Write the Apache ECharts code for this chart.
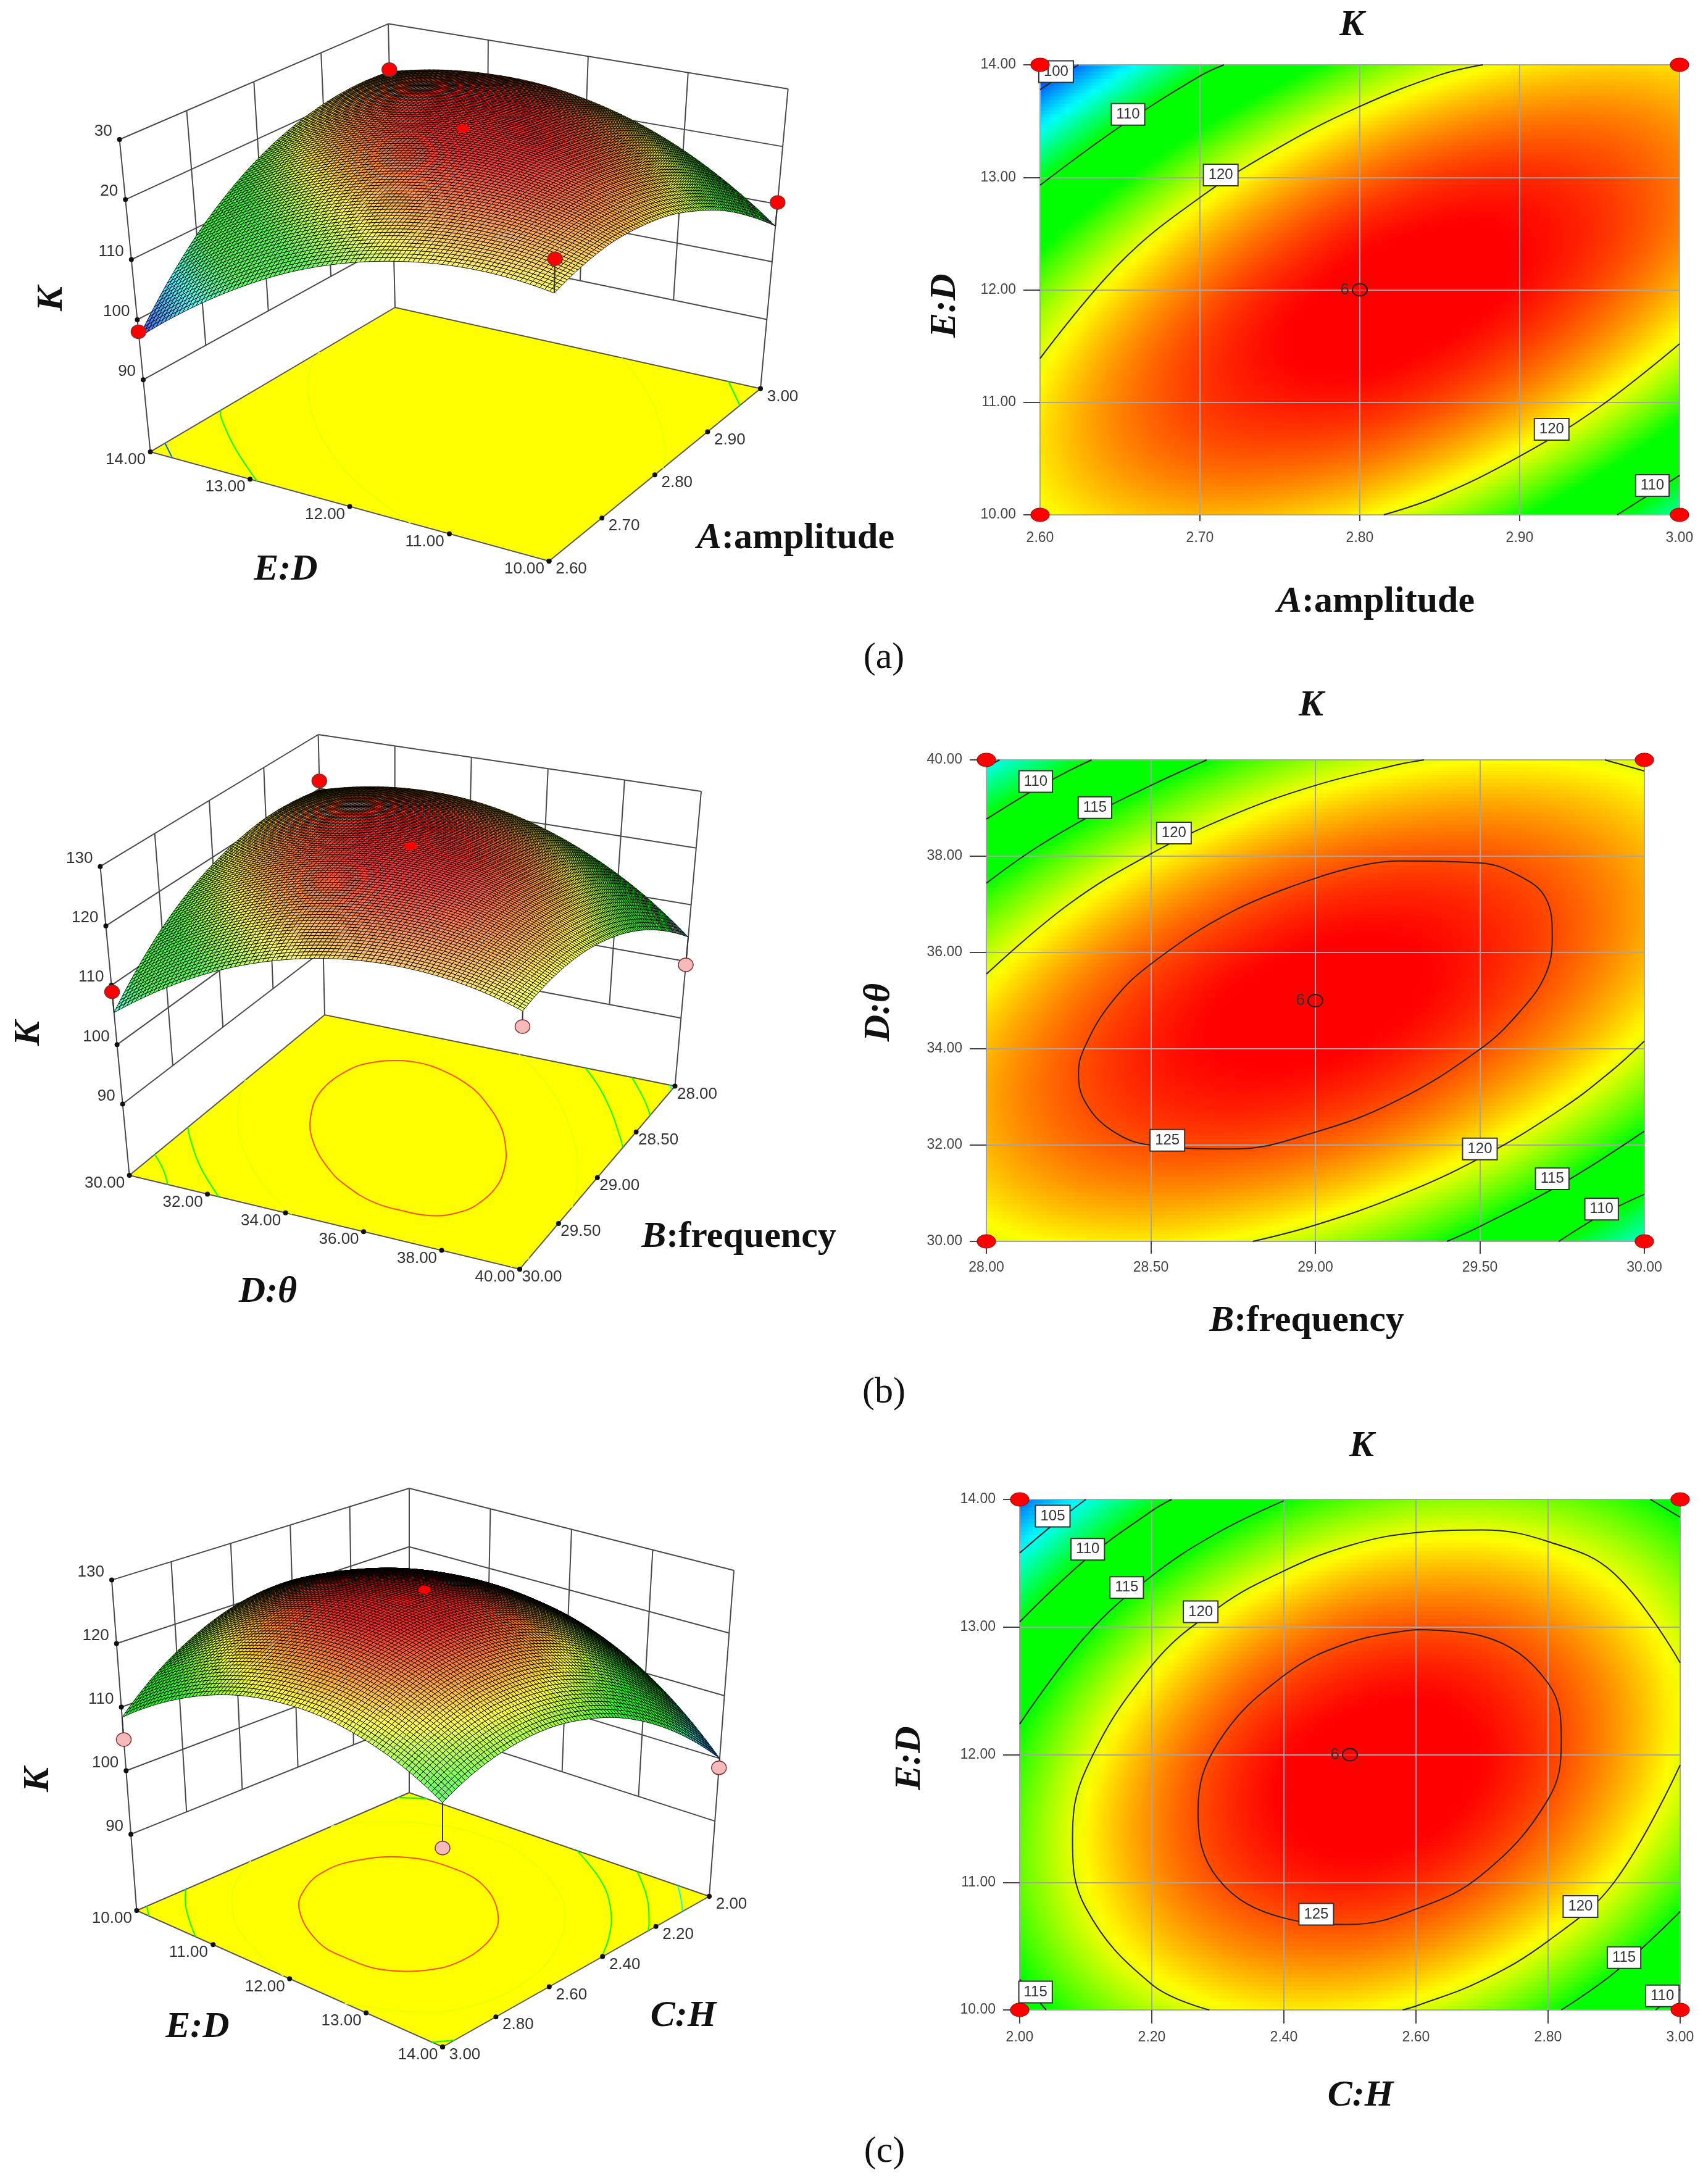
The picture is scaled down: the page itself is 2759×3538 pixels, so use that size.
<!DOCTYPE html>
<html>
<head>
<meta charset="utf-8">
<style>html,body{margin:0;padding:0;background:#fff}#main{width:2759px;height:3538px}</style>
<script src="https://cdn.jsdelivr.net/npm/echarts@6/dist/echarts.min.js"></script>
</head>
<body>
<div id="main"></div>
<script>
// K, rows go from lowest y tick to highest y tick
const kA = [
  [120.2,121.7,122.4,122.0,120.8,118.5,115.4,111.2,106.2],
  [121.1,123.3,124.5,124.7,124.1,122.4,119.8,116.3,111.8],
  [120.9,123.7,125.5,126.3,126.3,125.2,123.2,120.3,116.4],
  [119.6,123.0,125.4,126.9,127.4,126.9,125.5,123.2,119.9],
  [117.3,121.2,124.2,126.3,127.4,127.6,126.8,125.0,122.3],
  [113.9,118.4,122.0,124.6,126.4,127.1,126.9,125.8,123.7],
  [109.3,114.5,118.7,121.9,124.2,125.6,126.0,125.4,123.9],
  [103.7,109.5,114.3,118.1,121.0,122.9,123.9,124.0,123.1],
  [97.1,103.4,108.8,113.2,116.7,119.2,120.8,121.5,121.2]
];
const kB = [
  [119.7,120.7,120.9,120.2,118.8,116.7,113.7,109.9,105.4],
  [121.7,123.2,123.8,123.6,122.7,121.0,118.5,115.2,111.1],
  [122.6,124.5,125.6,125.9,125.4,124.2,122.1,119.3,115.7],
  [122.4,124.7,126.3,127.0,127.0,126.2,124.6,122.3,119.1],
  [121.0,123.8,125.8,127.1,127.5,127.2,126.0,124.1,121.4],
  [118.5,121.8,124.3,125.9,126.9,127.0,126.3,124.9,122.6],
  [114.9,118.6,121.6,123.7,125.1,125.7,125.5,124.5,122.7],
  [110.2,114.3,117.7,120.3,122.2,123.2,123.5,123.0,121.7],
  [104.3,108.9,112.8,115.9,118.2,119.7,120.4,120.3,119.5]
];
const kC = [
  [113.7,117.3,119.6,120.8,120.7,119.4,116.9,113.3,108.4],
  [115.9,119.8,122.4,123.8,124.1,123.1,120.9,117.6,113.0],
  [117.0,121.1,124.1,125.8,126.4,125.7,123.8,120.8,116.5],
  [116.9,121.4,124.6,126.7,127.5,127.2,125.6,122.8,118.9],
  [115.8,120.5,124.1,126.5,127.6,127.5,126.3,123.8,120.1],
  [113.5,118.6,122.4,125.1,126.5,126.8,125.8,123.7,120.3],
  [110.1,115.5,119.7,122.6,124.4,124.9,124.3,122.4,119.3],
  [105.6,111.3,115.8,119.0,121.1,121.9,121.6,120.0,117.3],
  [100.0,106.0,110.8,114.4,116.7,117.9,117.8,116.6,114.1]
];

// axis ticks
const ampTicks = [2.6,2.7,2.8,2.9,3.0];
const diaTicks = [10,11,12,13,14];
const freqTicks = [28,28.5,29,29.5,30];
const thetaTicks = [30,32,34,36,38,40];
const heightTicks = [2,2.2,2.4,2.6,2.8,3];
const kTicks = [90,100,110,120,130];
const kLabelsA = ['90','100','110','20','30'];
const kLabelsBC = ['90','100','110','120','130'];

// contour lines, [level, points]
const contoursA = [
  [100,[[2.6,13.78],[2.624,14]]],
  [110,[[2.6,12.93],[2.65,13.45],[2.7,13.9],[2.715,14]]],
  [120,[[2.6,11.39],[2.65,12.24],[2.7,12.82],[2.75,13.27],[2.8,13.63],[2.85,13.91],[2.877,14]]],
  [120,[[2.815,10],[2.85,10.17],[2.9,10.52],[2.95,10.96],[3,11.52]]],
  [110,[[2.961,10],[3,10.35]]]
];
const contoursB = [
  [105,[[28,39.85],[28.04,40]]],
  [110,[[28,38.77],[28.15,39.4],[28.25,39.77],[28.32,40]]],
  [115,[[28,37.44],[28.15,38.17],[28.33,38.89],[28.5,39.47],[28.67,40]]],
  [120,[[28,35.55],[28.25,37],[28.5,38.05],[28.75,38.86],[29,39.47],[29.25,39.9],[29.33,40]]],
  [120,[[29.88,40],[30,39.77]]],
  [120,[[28.81,30],[29,30.34],[29.25,30.94],[29.5,31.73],[29.75,32.76],[29.9,33.54],[30,34.16]]],
  [115,[[29.4,30],[29.5,30.31],[29.75,31.2],[30,32.29]]],
  [110,[[29.74,30],[29.87,30.55],[30,30.98]]],
  [125,[[29,37.54],[29.25,37.9],[29.5,37.86],[29.62,37.59],[29.7,37.13],[29.72,36.35],[29.7,35.55],[29.62,34.76],[29.5,33.99],[29.25,32.93],[29,32.27],[28.75,31.92],[28.5,32],[28.38,32.31],[28.3,32.9],[28.28,33.5],[28.3,34.05],[28.38,34.96],[28.5,35.76],[28.75,36.86],[29,37.54]]]
];
const contoursC = [
  [105,[[2,13.58],[2.05,13.8],[2.1,14]]],
  [110,[[2,13.04],[2.1,13.53],[2.2,13.91],[2.23,14]]],
  [115,[[2,12.24],[2.1,12.93],[2.2,13.4],[2.3,13.74],[2.4,13.99]]],
  [115,[[2,10.24],[2.04,10]]],
  [115,[[2.955,14],[3,13.86]]],
  [115,[[2.82,10],[2.9,10.29],[3,10.77]]],
  [110,[[2.963,10],[3,10.16]]],
  [120,[[2.287,10],[2.2,10.2],[2.1,10.8],[2.08,11.34],[2.1,11.88],[2.2,12.7],[2.3,13.15],[2.4,13.44],[2.5,13.64],[2.6,13.74],[2.7,13.76],[2.8,13.67],[2.9,13.42],[3,12.72]]],
  [120,[[3,11.92],[2.9,11],[2.8,10.54],[2.7,10.23],[2.6,10.03],[2.58,10]]],
  [125,[[2.6,12.98],[2.7,12.93],[2.8,12.56],[2.82,12.1],[2.8,11.65],[2.7,11.06],[2.6,10.79],[2.5,10.67],[2.4,10.72],[2.3,11.03],[2.27,11.56],[2.3,12.09],[2.4,12.62],[2.5,12.88],[2.6,12.98]]]
];

// boxed contour labels [x, y, level]
const labelsA = [[2.61,13.94,100],[2.655,13.56,110],[2.713,13.02,120],[2.92,10.76,120],[2.983,10.26,110]];
const labelsB = [[28.15,39.55,110],[28.33,39.01,115],[28.57,38.48,120],[28.55,32.1,125],[29.5,31.92,120],[29.72,31.3,115],[29.87,30.67,110]];
const labelsC = [[2.05,13.87,105],[2.103,13.61,110],[2.162,13.31,115],[2.274,13.12,120],[2.449,10.75,125],[2.849,10.81,120],[2.915,10.41,115],[2.973,10.11,110],[2.024,10.14,115]];

// design points on the contour plots, the centre point has 6 replicates
const pointsA = [[2.6,14],[3,14],[2.6,10],[3,10]];
const centreA = [2.8,12];
const pointsB = [[28,40],[30,40],[28,30],[30,30]];
const centreB = [29,35];
const pointsC = [[2,14],[3,14],[2,10],[3,10]];
const centreC = [2.5,12];

// design points above / below the surface [x, y, K]
const points3dA = [[2.6,14,98],[3,14,121.6],[3,10,110.3],[2.6,10,125.6],[2.8,12,128.7]];
const points3dB = [[28,30,121.4],[30,30,108.9],[28,40,99.4],[30,40,117],[29,35,128]];
const points3dC = [[3,10,104.9],[2,14,98.5],[3,14,107.4],[2.5,12,129]];

const Z_FLOOR = 78, Z_TOP = 130;
const SANS = '"Liberation Sans"', SERIF = '"Liberation Serif"';

// colour ramp of the response surface
const rampStops = [[97,[0,0,255]],[104.5,[0,255,255]],[110,[0,255,0]],[115,[0,255,0]],[120.5,[255,255,0]],[127,[255,0,0]]];
function rampRgb(v) {
  if (v <= rampStops[0][0]) return rampStops[0][1];
  for (let i = 1; i < rampStops.length; i++) {
    if (v <= rampStops[i][0]) {
      const a = rampStops[i-1], b = rampStops[i], t = (v - a[0]) / (b[0] - a[0]);
      return a[1].map((c, k) => c + (b[1][k] - c) * t);
    }
  }
  return rampStops[rampStops.length-1][1];
}
function rgb(c) { return 'rgb(' + c.map(Math.round).join(',') + ')'; }

// smooth shading between the read table values (Catmull-Rom, only for painting)
function tableAt(t, j, i) {
  if (i < 0) return 3*tableAt(t,j,0) - 3*tableAt(t,j,1) + tableAt(t,j,2);
  if (i > 8) return 3*tableAt(t,j,8) - 3*tableAt(t,j,7) + tableAt(t,j,6);
  if (j < 0) return 3*tableAt(t,0,i) - 3*tableAt(t,1,i) + tableAt(t,2,i);
  if (j > 8) return 3*tableAt(t,8,i) - 3*tableAt(t,7,i) + tableAt(t,6,i);
  return t[j][i];
}
function cr(a, b, c, d, s) {
  return 0.5 * (2*b + (c-a)*s + (2*a-5*b+4*c-d)*s*s + (3*b-a-3*c+d)*s*s*s);
}
function sample(t, u, v) {
  const fx = Math.min(u * 8, 7.9999), fy = Math.min(v * 8, 7.9999);
  const i = Math.floor(fx), j = Math.floor(fy), s = fx - i, r = fy - j;
  const row = [];
  for (let k = -1; k <= 2; k++) {
    row.push(cr(tableAt(t,j+k,i-1), tableAt(t,j+k,i), tableAt(t,j+k,i+1), tableAt(t,j+k,i+2), s));
  }
  return cr(row[0], row[1], row[2], row[3], r);
}

const cells = [];
for (let j = 0; j < 8; j++) for (let i = 0; i < 8; i++) cells.push([i, j]);

function norm(v, ticks) { return (v - ticks[0]) / (ticks[ticks.length-1] - ticks[0]); }

// --- contour plots ---
const panels2d = [
  {k:kA, xt:ampTicks, yt:diaTicks, cont:contoursA, lab:labelsA, pts:pointsA, ctr:centreA, left:1685, top:105, w:1036, h:729, tick:10, xMargin:26},
  {k:kB, xt:freqTicks, yt:thetaTicks, cont:contoursB, lab:labelsB, pts:pointsB, ctr:centreB, left:1598, top:1231, w:1066, h:780, tick:20, xMargin:31},
  {k:kC, xt:heightTicks, yt:diaTicks, cont:contoursC, lab:labelsC, pts:pointsC, ctr:centreC, left:1652, top:2429, w:1070, h:827, tick:22, xMargin:33}
];

const grids = [], xAxes = [], yAxes = [], series = [];
panels2d.forEach((p, n) => {
  grids.push({left:p.left, top:p.top, width:p.w, height:p.h, show:false});
  const common = {type:'value', z:5, splitLine:{show:true, lineStyle:{color:'#a6a6a6', width:2}}, axisLine:{show:false}};
  xAxes.push(Object.assign({}, common, {gridIndex:n, min:p.xt[0], max:p.xt[p.xt.length-1], interval:p.xt[1]-p.xt[0],
    axisTick:{show:true, length:p.tick, lineStyle:{color:'#444', width:2}},
    axisLabel:{margin:p.xMargin, fontSize:23, fontFamily:SANS, color:'#444', formatter:v => v.toFixed(2)}}));
  yAxes.push(Object.assign({}, common, {gridIndex:n, min:p.yt[0], max:p.yt[p.yt.length-1], interval:p.yt[1]-p.yt[0],
    axisTick:{show:true, length:27, lineStyle:{color:'#444', width:2}},
    axisLabel:{margin:39, fontSize:23, fontFamily:SANS, color:'#444', formatter:v => v.toFixed(2)}}));

  const xMin = p.xt[0], xMax = p.xt[p.xt.length-1], yMin = p.yt[0], yMax = p.yt[p.yt.length-1];
  const ROWS = 16, STOPS = 6;
  series.push({
    type:'custom', xAxisIndex:n, yAxisIndex:n, silent:true, clip:true, z:2, progressive:0,
    data: cells.map(c => [xMin + (xMax-xMin)*c[0]/8, yMin + (yMax-yMin)*c[1]/8, p.k[c[1]][c[0]], c[0], c[1]]),
    encode:{x:0, y:1},
    renderItem(params, api) {
      const ci = api.value(3), cj = api.value(4), kids = [];
      for (let b = 0; b < ROWS; b++) {
        const u0 = ci/8, u1 = (ci+1)/8, v0 = (cj + b/ROWS)/8, v1 = (cj + (b+1)/ROWS)/8;
        const p0 = api.coord([xMin + (xMax-xMin)*u0, yMin + (yMax-yMin)*v0]);
        const p1 = api.coord([xMin + (xMax-xMin)*u1, yMin + (yMax-yMin)*v1]);
        const x0 = Math.round(p0[0]), x1 = Math.round(p1[0]), y0 = Math.round(p1[1]), y1 = Math.round(p0[1]);
        const stops = [];
        for (let s = 0; s <= STOPS; s++) {
          stops.push({offset:s/STOPS, color:rgb(rampRgb(sample(p.k, u0 + (u1-u0)*s/STOPS, (v0+v1)/2)))});
        }
        kids.push({type:'rect', shape:{x:x0, y:y0, width:x1-x0, height:y1-y0},
          style:{fill:{type:'linear', x:0, y:0, x2:1, y2:0, colorStops:stops}}});
      }
      return {type:'group', children:kids};
    }
  });
  p.cont.forEach(c => series.push({
    type:'line', xAxisIndex:n, yAxisIndex:n, data:c[1], smooth:0.4, showSymbol:false, symbol:'none', silent:true, z:6,
    lineStyle:{color:'#222', width:2}
  }));
  series.push({
    type:'scatter', xAxisIndex:n, yAxisIndex:n, data:p.lab, symbolSize:1, silent:true, z:8, clip:false,
    itemStyle:{color:'#fff', opacity:1},
    label:{show:true, position:'inside', formatter:o => o.value[2], fontSize:24, fontFamily:SANS, color:'#333',
      backgroundColor:'#ffffff', borderColor:'#333', borderWidth:2, padding:[5,7,4,7], opacity:1}
  });
  series.push({
    type:'scatter', xAxisIndex:n, yAxisIndex:n, data:p.pts, symbol:'circle', symbolSize:[30,22], silent:true, z:9, clip:false,
    itemStyle:{color:'#f00', borderColor:'#900', borderWidth:1, opacity:1}
  });
  series.push({
    type:'scatter', xAxisIndex:n, yAxisIndex:n, data:[p.ctr], symbol:'circle', symbolSize:[24,20], silent:true, z:9, clip:false,
    itemStyle:{color:'rgba(255,0,0,0.6)', borderColor:'#222', borderWidth:2, opacity:1},
    label:{show:true, position:'left', distance:4, formatter:'6', fontSize:26, fontFamily:SANS, color:'#333'}
  });
});

// --- 3D response surfaces, drawn on a hidden page-sized grid ---
grids.push({left:0, top:0, right:0, bottom:0, show:false});
xAxes.push({type:'value', gridIndex:3, min:0, max:2759, show:false});
yAxes.push({type:'value', gridIndex:3, min:0, max:3538, inverse:true, show:false});

// corners are given for (x low,y low), (x high,y low), (x low,y high), (x high,y high)
const panels3d = [
  {k:kA, xt:ampTicks, yt:diaTicks, zl:kLabelsA, cont:contoursA, pts:points3dA, xb:1, yb:1,
   floor:[[889.5,909],[1232,629.5],[243.6,732],[640,498]], ceil:[[900,374],[1276.7,144],[193.6,226],[629,38.6]]},
  {k:kB, xt:freqTicks, yt:thetaTicks, zl:kLabelsBC, cont:contoursB, pts:points3dB, xb:0, yb:0,
   floor:[[526,1644],[209.6,1904],[1093.5,1759.5],[842,2056]], ceil:[[515.6,1190],[162.4,1403.7],[1136,1282],[848,1532]]},
  {k:kC, xt:heightTicks, yt:diaTicks, zl:kLabelsBC, cont:contoursC, pts:points3dC, xb:0, yb:0,
   floor:[[663,2904],[221.4,3095],[1149,3072],[717,3316]], ceil:[[663,2411],[181,2559.6],[1189,2544],[717,2746]]}
];

function bil(c, u, v) {
  return [0,1].map(k => c[0][k]*(1-u)*(1-v) + c[1][k]*u*(1-v) + c[2][k]*(1-u)*v + c[3][k]*u*v);
}
function project(p, u, v, z) {
  const f = bil(p.floor, u, v), c = bil(p.ceil, u, v), t = (z - Z_FLOOR) / (Z_TOP - Z_FLOOR);
  return [f[0] + (c[0]-f[0])*t, f[1] + (c[1]-f[1])*t];
}
function line(a, b, w, col) {
  return {type:'line', shape:{x1:a[0], y1:a[1], x2:b[0], y2:b[1]}, style:{stroke:col || '#4a4a4a', lineWidth:w || 2}};
}
function dot(a, r) { return {type:'circle', shape:{cx:a[0], cy:a[1], r:r || 4}, style:{fill:'#111'}}; }
function label3d(a, text, align) {
  return {type:'text', x:a[0], y:a[1], style:{text:text, fontSize:26, fontFamily:SANS, fill:'#333', align:align || 'center', verticalAlign:'middle'}};
}

panels3d.forEach(p => {
  const xf = 1 - p.xb, yf = 1 - p.yb;
  // walls, floor, floor contours
  series.push({
    type:'custom', xAxisIndex:3, yAxisIndex:3, silent:true, clip:false, z:2, data:[[0,0]],
    renderItem(params, api) {
      const P = (u,v,z) => api.coord(project(p,u,v,z)), kids = [];
      const fl = [P(0,0,Z_FLOOR),P(1,0,Z_FLOOR),P(1,1,Z_FLOOR),P(0,1,Z_FLOOR)];
      kids.push({type:'polygon', shape:{points:fl}, style:{fill:'#ffff00', stroke:'#555', lineWidth:2}});
      p.cont.forEach(c => {
        kids.push({type:'polyline', shape:{points:c[1].map(q => P(norm(q[0],p.xt), norm(q[1],p.yt), Z_FLOOR)), smooth:0.4},
          style:{stroke:rgb(rampRgb(c[0])), fill:null, lineWidth:2}});
      });
      kTicks.forEach(z => {
        kids.push(line(P(xf,p.yb,z), P(p.xb,p.yb,z)));
        kids.push(line(P(p.xb,p.yb,z), P(p.xb,yf,z)));
      });
      p.xt.slice(1,-1).forEach(t => kids.push(line(P(norm(t,p.xt),p.yb,90), P(norm(t,p.xt),p.yb,Z_TOP))));
      p.yt.slice(1,-1).forEach(t => kids.push(line(P(p.xb,norm(t,p.yt),90), P(p.xb,norm(t,p.yt),Z_TOP))));
      kids.push(line(P(xf,p.yb,Z_FLOOR), P(xf,p.yb,Z_TOP)));
      kids.push(line(P(p.xb,p.yb,Z_FLOOR), P(p.xb,p.yb,Z_TOP)));
      kids.push(line(P(p.xb,yf,Z_FLOOR), P(p.xb,yf,Z_TOP)));
      return {type:'group', children:kids};
    }
  });

  // the surface mesh, cells go from the back corner to the front corner
  const SUB = 11, M = 8 * SUB, zv = [], xy = [];
  let maxA = 0;
  for (let j = 0; j <= M; j++) {
    zv.push([]); xy.push([]);
    for (let i = 0; i <= M; i++) {
      const z = sample(p.k, i/M, j/M);
      zv[j].push(z); xy[j].push(project(p, i/M, j/M, z));
    }
  }
  const area = q => Math.abs((q[2][0]-q[0][0])*(q[3][1]-q[1][1]) - (q[3][0]-q[1][0])*(q[2][1]-q[0][1])) / 2;
  for (let j = 0; j < M; j++) for (let i = 0; i < M; i++) {
    maxA = Math.max(maxA, area([xy[j][i],xy[j][i+1],xy[j+1][i+1],xy[j+1][i]]));
  }
  const order = cells.slice().sort((a, b) => {
    const ay = p.yb ? 7-a[1] : a[1], by = p.yb ? 7-b[1] : b[1];
    const ax = p.xb ? 7-a[0] : a[0], bx = p.xb ? 7-b[0] : b[0];
    return ay - by || ax - bx;
  });
  series.push({
    type:'custom', xAxisIndex:3, yAxisIndex:3, silent:true, clip:false, z:3, progressive:0, data:order,
    renderItem(params, api) {
      const ci = api.value(0), cj = api.value(1), kids = [];
      for (let b0 = 0; b0 < SUB; b0++) for (let a0 = 0; a0 < SUB; a0++) {
        const a = p.xb ? SUB-1-a0 : a0, b = p.yb ? SUB-1-b0 : b0;
        const i = ci*SUB + a, j = cj*SUB + b;
        const q = [xy[j][i],xy[j][i+1],xy[j+1][i+1],xy[j+1][i]];
        const rel = area(q)/maxA;
        const lit = Math.pow(rel, 1.5) * 0.42, dark = 0.2 + 0.8 * Math.min(1, rel/0.35);
        const c = rampRgb((zv[j][i]+zv[j][i+1]+zv[j+1][i+1]+zv[j+1][i])/4).map(v => (v + (255-v)*lit) * dark);
        kids.push({type:'polygon', shape:{points:q.map(pt => api.coord(pt))},
          style:{fill:rgb(c), stroke:'#000', lineWidth:0.9}});
      }
      return {type:'group', children:kids};
    }
  });

  // axis ticks, labels and design points in front of everything
  series.push({
    type:'custom', xAxisIndex:3, yAxisIndex:3, silent:true, clip:false, z:4, data:[[0,0]],
    renderItem(params, api) {
      const P = (u,v,z) => api.coord(project(p,u,v,z)), kids = [];
      kTicks.forEach((z, n) => {
        const a = P(xf,p.yb,z);
        kids.push(dot(a));
        kids.push(label3d([a[0]-12, a[1]-13], p.zl[n], 'right'));
      });
      p.yt.forEach(t => {
        const a = P(xf,norm(t,p.yt),Z_FLOOR);
        kids.push(dot(a));
        kids.push(label3d([a[0]-40, a[1]+13], t.toFixed(2)));
      });
      p.xt.forEach(t => {
        const a = P(norm(t,p.xt),yf,Z_FLOOR);
        kids.push(dot(a));
        kids.push(label3d([a[0]+36, a[1]+13], t.toFixed(2)));
      });
      p.pts.forEach(q => {
        const u = norm(q[0],p.xt), v = norm(q[1],p.yt), s = sample(p.k,u,v), a = P(u,v,q[2]);
        const centre = u > 0 && u < 1;
        if (!centre) kids.push(line(a, P(u,v,s), 2, '#333'));
        kids.push({type:'ellipse', shape:{cx:a[0], cy:a[1], rx:centre?9:12, ry:centre?6:11},
          style:{fill:q[2] < s ? '#f6b9b9' : '#f00', stroke:centre?'#f00':'#733', lineWidth:1.5}});
      });
      return {type:'group', children:kids};
    }
  });
});

// axis titles and captions
const boldI = {fontFamily:SERIF, fontSize:60, fontWeight:'bold', fontStyle:'italic', fill:'#111'};
const boldR = {fontFamily:SERIF, fontSize:60, fontWeight:'bold', fill:'#111'};
function title(x, y, text, vertical) {
  return {type:'text', x:x, y:y, rotation:vertical ? Math.PI/2 : 0, silent:true,
    style:{text:text, rich:{i:boldI, r:boldR}, align:'center', verticalAlign:'middle'}};
}
function caption(x, y, text) {
  return {type:'text', x:x, y:y, silent:true,
    style:{text:text, fontFamily:SERIF, fontSize:60, fill:'#111', align:'center', verticalAlign:'middle'}};
}
const graphic = [
  title(84,484,'{i|K}',true), title(463,923,'{i|E:D}'), title(1289,872,'{i|A}{r|:amplitude}'),
  title(2190,41,'{i|K}'), title(1531,495,'{i|E:D}',true), title(2229,975,'{i|A}{r|:amplitude}'),
  title(47,1674,'{i|K}',true), title(434,2093,'{i|D:θ}'), title(1197,2004,'{i|B}{r|:frequency}'),
  title(2124,1143,'{i|K}'), title(1424,1640,'{i|D:θ}',true), title(2117,2140,'{i|B}{r|:frequency}'),
  title(62,2883,'{i|K}',true), title(320,3284,'{i|E:D}'), title(1107,3266,'{i|C:H}'),
  title(2206,2343,'{i|K}'), title(1474,2848,'{i|E:D}',true), title(2204,3395,'{i|C:H}'),
  caption(1432,1066,'(a)'), caption(1432,2256,'(b)'), caption(1433,3486,'(c)')
];

const chart = echarts.init(document.getElementById('main'), null, {renderer:'canvas'});
chart.setOption({
  animation:false, backgroundColor:'#fff',
  grid:grids, xAxis:xAxes, yAxis:yAxes, series:series, graphic:graphic
});
</script>
</body>
</html>
